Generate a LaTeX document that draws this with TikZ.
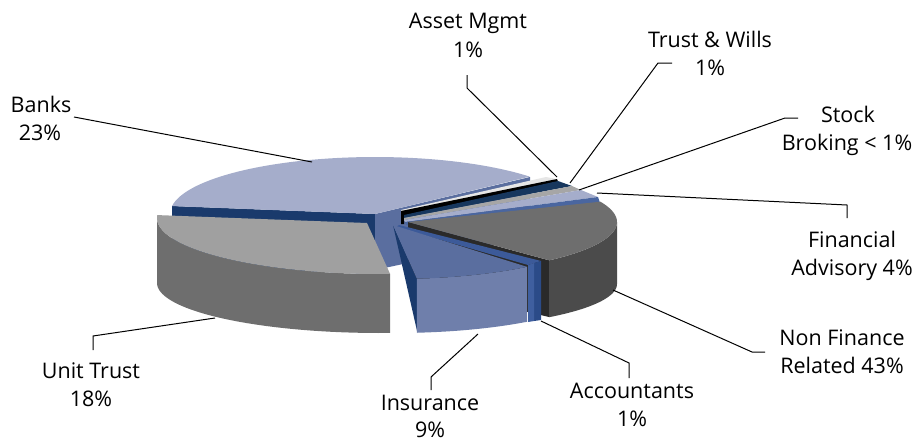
\documentclass[tikz,border=0pt]{standalone}
\usepackage{fontspec}
\setmainfont{Open Sans}
\definecolor{bankTop}{HTML}{A5ADCB}
\definecolor{bankNavy}{HTML}{1A3A6C}
\definecolor{bankMid}{HTML}{5A6E9F}
\definecolor{amTop}{HTML}{E6E6E6}
\definecolor{twTop}{HTML}{17375E}
\definecolor{sbTop}{HTML}{A6A6A6}
\definecolor{faTop}{HTML}{A5ADCB}
\definecolor{faFace}{HTML}{4A66A0}
\definecolor{nfTop}{HTML}{6E6E6E}
\definecolor{nfWall}{HTML}{4B4B4B}
\definecolor{nfFace}{HTML}{2A2A2A}
\definecolor{acTop}{HTML}{3C5A99}
\definecolor{acWall}{HTML}{3F5F9F}
\definecolor{acFace}{HTML}{2B4B88}
\definecolor{inTop}{HTML}{5A6E9F}
\definecolor{inWall}{HTML}{6F7FAB}
\definecolor{inFace}{HTML}{1A3A6C}
\definecolor{utTop}{HTML}{A0A0A0}
\definecolor{utWall}{HTML}{6E6E6E}
\begin{document}
\begin{tikzpicture}[x=1pt,y=-1pt,
  lead/.style={draw=black, line width=1pt},
  lbl/.style={anchor=base, inner sep=0pt, font=\fontsize{21.5}{28}\selectfont},
  arcs/.style={samples=60, variable=\t}]
\useasboundingbox (0,0) rectangle (921,442);
% ---------- Banks ----------
\fill[bankNavy] (172,206) -- (375,214) -- (375,274) -- (172,266) -- cycle;
\fill[bankMid] (375,214) -- (530,177) -- (530,237) -- (375,270) -- cycle;
\fill[bankTop] (375,214) -- plot[arcs, domain=188:319] ({375+205*cos(\t)},{214+57*sin(\t)}) -- cycle;
% ---------- small slices ----------
\fill[amTop] (401,210) -- (546,177) -- (557,179) -- (402,213) -- cycle;
\fill[black] (401,211) -- (557,179) -- (558,181.5) -- (404,215.5) -- (404,224) -- (401,224) -- cycle;
\fill[twTop] (404,215) -- (558,181) -- (572,186) -- (404,218) -- cycle;
\fill[sbTop] (404,218) -- (572,186) -- (581,190) -- (404,220) -- cycle;
\fill[faTop] (404,220) -- (581,190) -- (598,197) -- (405,222) -- cycle;
\fill[faFace] (405,222) -- (598,197) -- (600,203) -- (406,225) -- cycle;
% ---------- Non Finance Related ----------
\fill[nfFace] (408,222) -- (549,260.3) -- (549,317) -- (408,284) -- cycle;
\fill[nfWall] plot[arcs, domain=0:47.5] ({408+209*cos(\t)},{222+52*sin(\t)})
   -- plot[arcs, domain=47.5:0] ({408+209*cos(\t)},{284+45*sin(\t)}) -- cycle;
\fill[nfTop] (408,222) -- plot[arcs, domain=-23:47.5] ({408+209*cos(\t)},{222+52*sin(\t)}) -- cycle;
% ---------- Accountants ----------
\fill[acTop] (399,225) -- (541,261) -- (528,265) -- (396,227) -- cycle;
\fill[acFace] (534,263) -- (541,261) -- (541,320) -- (534,321) -- cycle;
\fill[acWall] (528,265) -- (534,263) -- (534,321) -- (528,322) -- cycle;
% ---------- Insurance ----------
\fill[inFace] (393,225) -- (416.8,278.7) -- (417.5,333) -- cycle;
\fill[inWall] plot[arcs, domain=50.8:84] ({395+209*cos(\t)},{225+54*sin(\t)})
   -- plot[arcs, domain=84:50.8] ({395+209*cos(\t)},{283+50*sin(\t)}) -- cycle;
\fill[inTop] (393,225) -- plot[arcs, domain=50.8:84] ({395+209*cos(\t)},{225+54*sin(\t)}) -- cycle;
% ---------- Unit Trust ----------
\fill[utWall] plot[arcs, domain=87.4:180] ({380+223*cos(\t)},{218+56*sin(\t)})
   -- plot[arcs, domain=180:87.4] ({380+223*cos(\t)},{283+50*sin(\t)}) -- cycle;
\fill[utTop] (367,223) -- plot[arcs, domain=87.4:183] ({380+223*cos(\t)},{218+56*sin(\t)}) -- cycle;
% ---------- labels ----------
\node[lbl] (bk1) at (41,112) {Banks};
\node[lbl] (bk2) at (40,140) {23\%};
\node[lbl] (am1) at (468,28) {Asset Mgmt};
\node[lbl] (am2) at (468,57) {1\%};
\node[lbl] (tw1) at (710,47) {Trust \& Wills};
\node[lbl] (tw2) at (710,75) {1\%};
\node[lbl] (sb1) at (848,122) {Stock};
\node[lbl] (sb2) at (847,150) {Broking < 1\%};
\node[lbl] (fa1) at (852,247) {Financial};
\node[lbl] (fa2) at (852,275) {Advisory 4\%};
\node[lbl] (nf1) at (842,345) {Non Finance};
\node[lbl] (nf2) at (842,373) {Related 43\%};
\node[lbl] (ac1) at (632,398) {Accountants};
\node[lbl] (ac2) at (632,426) {1\%};
\node[lbl] (in1) at (430,410) {Insurance};
\node[lbl, text depth=0pt] (in2) at (430,437) {9\%};
\node[lbl] (ut1) at (91,378) {Unit Trust};
\node[lbl] (ut2) at (91,406) {18\%};
% ---------- leader lines ----------
\coordinate (bkA) at (74,117);   \coordinate (bkP) at (312,162);
\coordinate (amA) at (467,75);   \coordinate (amB) at (467,88);  \coordinate (amP) at (557,177);
\coordinate (twA) at (672,63);   \coordinate (twB) at (658,63);  \coordinate (twP) at (570,183);
\coordinate (sbA) at (798,118);  \coordinate (sbB) at (785,118); \coordinate (sbP) at (579,190);
\coordinate (faA) at (847,218);  \coordinate (faB) at (847,205); \coordinate (faP) at (597,193);
\coordinate (nfA) at (765,352);  \coordinate (nfB) at (752,352); \coordinate (nfP) at (613,290);
\coordinate (acA) at (629,378);  \coordinate (acB) at (629,363); \coordinate (acP) at (541,321);
\coordinate (inA) at (431,390);  \coordinate (inB) at (431,377); \coordinate (inP) at (478,334);
\coordinate (utA) at (93,350);   \coordinate (utB) at (93,336);  \coordinate (utP) at (215,318);
\draw[lead] (bkA) -- (bkP);
\draw[lead] (amA) -- (amB) -- (amP);
\draw[lead] (twA) -- (twB) -- (twP);
\draw[lead] (sbA) -- (sbB) -- (sbP);
\draw[lead] (faA) -- (faB) -- (faP);
\draw[lead] (nfA) -- (nfB) -- (nfP);
\draw[lead] (acA) -- (acB) -- (acP);
\draw[lead] (inA) -- (inB) -- (inP);
\draw[lead] (utA) -- (utB) -- (utP);
\end{tikzpicture}
\end{document}
